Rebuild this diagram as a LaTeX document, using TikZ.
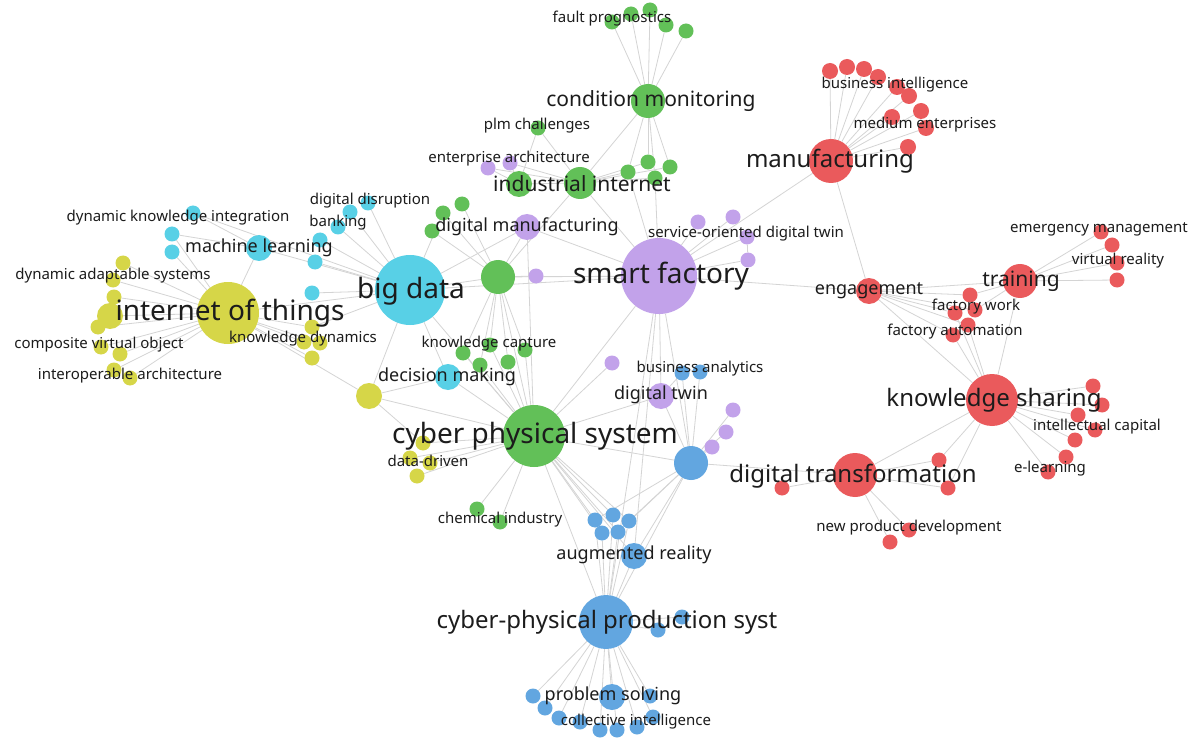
\documentclass[tikz,border=0pt]{standalone}
\usepackage{fontspec}
\setmainfont{Noto Sans}
\usepackage{tikz}
\pgfdeclarelayer{edges}
\pgfsetlayers{edges,main}
\definecolor{kwyellow}{RGB}{214,214,72}
\definecolor{kwcyan}{RGB}{88,208,230}
\definecolor{kwgreen}{RGB}{98,192,88}
\definecolor{kwpurple}{RGB}{194,162,234}
\definecolor{kwred}{RGB}{234,90,92}
\definecolor{kwblue}{RGB}{98,166,224}
\definecolor{linkgray}{RGB}{212,212,212}
\definecolor{labelink}{RGB}{28,28,28}
\tikzstyle{kw} = [circle, inner sep=0pt, minimum size=15]
\tikzstyle{yel} = [kw, fill=kwyellow]
\tikzstyle{cya} = [kw, fill=kwcyan]
\tikzstyle{grn} = [kw, fill=kwgreen]
\tikzstyle{pur} = [kw, fill=kwpurple]
\tikzstyle{rdd} = [kw, fill=kwred]
\tikzstyle{blu} = [kw, fill=kwblue]
\tikzstyle{link} = [draw=linkgray, line width=0.8pt]
\tikzstyle{lab} = [inner sep=0pt, text=labelink, font=\fontsize{15}{16}\selectfont]
\tikzstyle{labS} = [lab, font=\fontsize{18}{20}\selectfont]
\tikzstyle{labM} = [lab, font=\fontsize{21}{23}\selectfont]
\tikzstyle{labL} = [lab, font=\fontsize{24}{26}\selectfont]
\tikzstyle{labXL} = [lab, font=\fontsize{28}{30}\selectfont]

\begin{document}
\begin{tikzpicture}[x=1pt, y=-1pt]
\useasboundingbox (0,0) rectangle (1197,738);

% internet of things cluster
\node (iot) [yel, minimum size=62] at (228,313) {};
\node (yl) [yel, minimum size=26] at (110,316) {};
\node (y2) [yel, minimum size=26] at (369,396) {};
\node (ya) [yel] at (123,263) {};
\node (yb) [yel] at (113,280) {};
\node (yc) [yel] at (114,297) {};
\node (yd) [yel] at (98,327) {};
\node (ye) [yel] at (101,347) {};
\node (yf) [yel] at (120,354) {};
\node (yg) [yel] at (114,370) {};
\node (yh) [yel] at (130,378) {};
\node (yk1) [yel] at (312,327) {};
\node (yk2) [yel] at (304,342) {};
\node (yk3) [yel] at (320,343) {};
\node (yk4) [yel] at (312,358) {};
\node (yd1) [yel] at (423,443) {};
\node (yd2) [yel] at (410,458) {};
\node (yd3) [yel] at (430,463) {};
\node (yd4) [yel] at (417,476) {};

% big data cluster
\node (bd) [cya, minimum size=70] at (410,290) {};
\node (ml) [cya, minimum size=26] at (259,248) {};
\node (dec) [cya, minimum size=26] at (448,377) {};
\node (c1) [cya] at (193,213) {};
\node (c2) [cya] at (172,234) {};
\node (c3) [cya] at (172,252) {};
\node (c4) [cya] at (320,240) {};
\node (c5) [cya] at (315,262) {};
\node (c6) [cya] at (312,293) {};
\node (c7) [cya] at (350,212) {};
\node (c8) [cya] at (368,203) {};
\node (c9) [cya] at (338,227) {};

% cyber physical system cluster
\node (cps) [grn, minimum size=62] at (534,436) {};
\node (cm) [grn, minimum size=34] at (648,101) {};
\node (ii) [grn, minimum size=32] at (580,183) {};
\node (ii2) [grn, minimum size=26] at (519,184) {};
\node (g1) [grn, minimum size=34] at (498,277) {};
\node (g2) [grn] at (612,22) {};
\node (g3) [grn] at (631,14) {};
\node (g4) [grn] at (650,10) {};
\node (g5) [grn] at (666,25) {};
\node (g6) [grn] at (686,31) {};
\node (g7) [grn] at (538,128) {};
\node (g8) [grn] at (628,172) {};
\node (g9) [grn] at (648,162) {};
\node (g10) [grn] at (670,167) {};
\node (g11) [grn] at (655,178) {};
\node (g12) [grn] at (443,213) {};
\node (g13) [grn] at (462,204) {};
\node (g14) [grn] at (432,231) {};
\node (g15) [grn] at (463,353) {};
\node (g16) [grn] at (490,345) {};
\node (g17) [grn] at (480,365) {};
\node (g18) [grn] at (508,362) {};
\node (g19) [grn] at (525,350) {};
\node (g20) [grn] at (477,509) {};
\node (g21) [grn] at (500,522) {};

% smart factory cluster
\node (sf) [pur, minimum size=76] at (659,276) {};
\node (dm) [pur, minimum size=26] at (527,227) {};
\node (dtw) [pur, minimum size=26] at (661,396) {};
\node (p1) [pur] at (488,168) {};
\node (p2) [pur] at (510,163) {};
\node (p3) [pur] at (536,276) {};
\node (p4) [pur] at (698,222) {};
\node (p5) [pur] at (733,217) {};
\node (p6) [pur] at (747,237) {};
\node (p7) [pur] at (748,260) {};
\node (p8) [pur] at (612,363) {};
\node (p9) [pur] at (733,410) {};
\node (p10) [pur] at (726,432) {};
\node (p11) [pur] at (712,447) {};

% knowledge sharing cluster
\node (ks) [rdd, minimum size=52] at (992,400) {};
\node (dtr) [rdd, minimum size=44] at (855,475) {};
\node (mfg) [rdd, minimum size=44] at (831,161) {};
\node (tr) [rdd, minimum size=34] at (1020,281) {};
\node (eng) [rdd, minimum size=26] at (869,291) {};
\node (r1) [rdd, minimum size=16] at (830,71) {};
\node (r2) [rdd, minimum size=16] at (847,67) {};
\node (r3) [rdd, minimum size=16] at (864,69) {};
\node (r4) [rdd, minimum size=16] at (878,77) {};
\node (r5) [rdd, minimum size=16] at (897,87) {};
\node (r6) [rdd, minimum size=16] at (909,96) {};
\node (r7) [rdd, minimum size=16] at (921,111) {};
\node (r8) [rdd, minimum size=16] at (926,128) {};
\node (r9) [rdd, minimum size=16] at (892,117) {};
\node (r10) [rdd, minimum size=16] at (908,147) {};
\node (r11) [rdd] at (1101,232) {};
\node (r12) [rdd] at (1112,245) {};
\node (r13) [rdd] at (1117,263) {};
\node (r14) [rdd] at (1117,280) {};
\node (r15) [rdd] at (970,295) {};
\node (r16) [rdd] at (955,313) {};
\node (r17) [rdd] at (975,310) {};
\node (r18) [rdd] at (968,325) {};
\node (r19) [rdd] at (953,335) {};
\node (r20) [rdd] at (1093,386) {};
\node (r21) [rdd] at (1102,405) {};
\node (r22) [rdd] at (1078,415) {};
\node (r23) [rdd] at (1095,430) {};
\node (r24) [rdd] at (1075,440) {};
\node (r25) [rdd] at (1066,457) {};
\node (r26) [rdd] at (1048,472) {};
\node (r27) [rdd] at (782,488) {};
\node (r28) [rdd] at (939,460) {};
\node (r29) [rdd] at (948,488) {};
\node (r30) [rdd] at (909,530) {};
\node (r31) [rdd] at (890,542) {};

% production systems cluster
\node (cpps) [blu, minimum size=54] at (606,622) {};
\node (b1) [blu, minimum size=34] at (691,463) {};
\node (ar) [blu, minimum size=26] at (634,556) {};
\node (ps) [blu, minimum size=26] at (612,697) {};
\node (b2) [blu] at (682,373) {};
\node (b3) [blu] at (700,372) {};
\node (b4) [blu] at (595,520) {};
\node (b5) [blu] at (613,515) {};
\node (b6) [blu] at (629,521) {};
\node (b7) [blu] at (602,533) {};
\node (b8) [blu] at (618,532) {};
\node (b9) [blu] at (682,617) {};
\node (b10) [blu] at (658,630) {};
\node (b11) [blu] at (533,696) {};
\node (b12) [blu] at (545,708) {};
\node (b13) [blu] at (559,718) {};
\node (b14) [blu] at (580,722) {};
\node (b15) [blu] at (600,730) {};
\node (b16) [blu] at (617,730) {};
\node (b17) [blu] at (637,727) {};
\node (b18) [blu] at (653,717) {};
\node (b19) [blu] at (650,696) {};

\begin{pgfonlayer}{edges}
\fill[white] (0,0) rectangle (1197,738);
\foreach \s in {g1,p3,dm,ii,g8,g11,p4,p5,p6,p7,eng,mfg,cps,cpps,b1,dtw,ar,bd}
  \draw[link] (sf) -- (\s);
\foreach \s in {iot,ml,c4,c5,c6,c7,c8,c9,g1,dec,cps,y2,yk1,dm,c1,g12}
  \draw[link] (bd) -- (\s);
\foreach \s in {yl,ya,yb,yc,yd,ye,yf,yg,yh,ml,yk1,yk2,yk3,yk4,y2,c3,c2}
  \draw[link] (iot) -- (\s);
\foreach \s in {g1,dec,y2,yd1,yd2,yd3,yd4,g20,g21,b4,b5,b6,b7,b8,ar,cpps,b1,dtw,p8,g15,g16,g17,g18,g19,dm}
  \draw[link] (cps) -- (\s);
\foreach \s in {ar,b4,b5,b6,b7,b8,b9,b10,ps,b11,b12,b13,b14,b15,b16,b17,b18,b19,b1}
  \draw[link] (cpps) -- (\s);
\foreach \s in {ar,b2,b3,p9,p10,p11,dtw,b4,b6,b8,dtr}
  \draw[link] (b1) -- (\s);
\foreach \s in {g2,g3,g4,g5,g6,ii,g8,g9,g10,g11}
  \draw[link] (cm) -- (\s);
\foreach \s in {ii2,g7,g8,g9,g10,g11,p1,p2,g1}
  \draw[link] (ii) -- (\s);
\foreach \s in {dm,g12,g13,g14,g15,g16,g17,g18,g19,p3}
  \draw[link] (g1) -- (\s);
\foreach \s in {r1,r2,r3,r4,r5,r6,r7,r8,r9,r10,eng}
  \draw[link] (mfg) -- (\s);
\foreach \s in {tr,r15,r16,r17,r18,r19,ks}
  \draw[link] (eng) -- (\s);
\foreach \s in {r11,r12,r13,r14,r15,r17,ks}
  \draw[link] (tr) -- (\s);
\foreach \s in {r20,r21,r22,r23,r24,r25,r26,dtr,r28,r29,r16,r18,r19}
  \draw[link] (ks) -- (\s);
\foreach \s in {r27,r28,r29,r30,r31}
  \draw[link] (dtr) -- (\s);
\draw[link] (ml) -- (c1);
\draw[link] (ml) -- (c2);
\draw[link] (g7) -- (ii2);
\draw[link] (ii2) -- (p1);
\draw[link] (ii2) -- (p2);
\draw[link] (dec) -- (y2);
\draw[link] (y2) -- (yd1);
\draw[link] (p6) -- (p7);
\draw[link] (dtw) -- (b2);
\end{pgfonlayer}

% labels
\node (l-sf) [labXL] at (661,276) {smart factory};
\node (l-bd) [labXL] at (411,291) {big data};
\node (l-iot) [labXL] at (230,313) {internet of things};
\node (l-cps) [labXL] at (535,436) {cyber physical system};
\node (l-cpps) [labL] at (607,622) {cyber-physical production syst};
\node (l-ks) [labL] at (994,400) {knowledge sharing};
\node (l-dtr) [labL] at (853,476) {digital transformation};
\node (l-mfg) [labL] at (830,161) {manufacturing};
\node (l-cm) [labM] at (651,101) {condition monitoring};
\node (l-ii) [labM] at (582,184) {industrial internet};
\node (l-tr) [labM] at (1021,281) {training};
\node (l-eng) [labS] at (869,291) {engagement};
\node (l-dm) [labS] at (527,227) {digital manufacturing};
\node (l-dec) [labS] at (447,377) {decision making};
\node (l-ml) [labS] at (259,248) {machine learning};
\node (l-dtw) [labS] at (661,395) {digital twin};
\node (l-ar) [labS] at (634,555) {augmented reality};
\node (l-ps) [labS] at (613,696) {problem solving};
\node (l-ba) [lab] at (700,369) {business analytics};
\node (l-kc) [lab] at (489,344) {knowledge capture};
\node (l-dd) [lab] at (428,461) {data-driven};
\node (l-ci) [lab] at (500,520) {chemical industry};
\node (l-coi) [lab] at (636,722) {collective intelligence};
\node (l-kd) [lab] at (303,339) {knowledge dynamics};
\node (l-ia) [lab] at (130,376) {interoperable architecture};
\node (l-cvo) [lab] at (99,345) {composite virtual object};
\node (l-das) [lab] at (113,276) {dynamic adaptable systems};
\node (l-dki) [lab] at (178,218) {dynamic knowledge integration};
\node (l-dds) [lab] at (370,201) {digital disruption};
\node (l-bk) [lab] at (338,223) {banking};
\node (l-ea) [lab] at (509,159) {enterprise architecture};
\node (l-plm) [lab] at (537,126) {plm challenges};
\node (l-fp) [lab] at (612,19) {fault prognostics};
\node (l-bi) [lab] at (895,85) {business intelligence};
\node (l-me) [lab] at (925,125) {medium enterprises};
\node (l-sodt) [lab] at (746,234) {service-oriented digital twin};
\node (l-em) [lab] at (1099,229) {emergency management};
\node (l-vr) [lab] at (1118,261) {virtual reality};
\node (l-fw) [lab] at (976,307) {factory work};
\node (l-fa) [lab] at (955,332) {factory automation};
\node (l-ic) [lab] at (1097,427) {intellectual capital};
\node (l-el) [lab] at (1050,469) {e-learning};
\node (l-npd) [lab] at (909,528) {new product development};
\end{tikzpicture}
\end{document}
